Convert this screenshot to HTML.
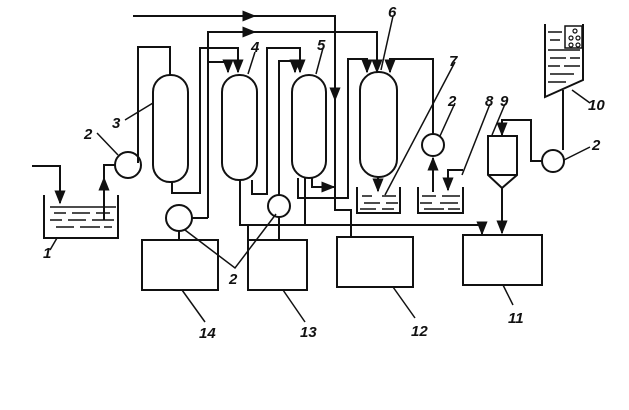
<!DOCTYPE html>
<html><head><meta charset="utf-8"><style>
html,body{margin:0;padding:0;background:#fff;}
svg{display:block;}
text{font-family:"Liberation Sans",sans-serif;font-style:italic;font-weight:bold;font-size:15px;fill:#111;}
</style></head><body>
<svg width="629" height="410" viewBox="0 0 629 410" xmlns="http://www.w3.org/2000/svg">
<defs><marker id="a" viewBox="0 0 10 10" refX="9" refY="5" markerWidth="7" markerHeight="7" orient="auto"><path d="M0,1 L10,5 L0,9 Z" fill="#111"/></marker></defs>
<g fill="none" stroke="#111" stroke-width="2">
<!-- top lines -->
<path d="M133,16 H335 V100"/>
<path d="M133,16 H255" marker-end="url(#a)"/>
<path d="M335,100 V210 H351 V237"/>
<path d="M335,60 V100" marker-end="url(#a)"/>
<path d="M208,218 V32 H377 V72" marker-end="url(#a)"/>
<path d="M208,32 H255" marker-end="url(#a)"/>
<!-- tank 1 -->
<path d="M44,195 V238 H118 V195"/>
<path d="M32,166 H60 V203" marker-end="url(#a)"/>
<path d="M104,220 V178" marker-end="url(#a)"/>
<path d="M104,180 V165 H115"/>
<!-- column 3 -->
<rect x="153" y="75" width="35" height="107" rx="17"/>
<path d="M170,75 V47 H138 V163"/>
<path d="M172,182 V193 H200 V48 H238 V72" marker-end="url(#a)"/>
<!-- column 4 -->
<rect x="222" y="75" width="35" height="105" rx="17"/>
<path d="M208,62 H228 V72" marker-end="url(#a)"/>
<path d="M240,180 V225 H482 V234" marker-end="url(#a)"/>
<path d="M252,180 V194 H267 V48 H300 V72" marker-end="url(#a)"/>
<!-- column 5 -->
<rect x="292" y="75" width="34" height="103" rx="17"/>
<path d="M279,195 V61 H295 V72" marker-end="url(#a)"/>
<path d="M279,217 V240"/>
<path d="M305,178 V225"/>
<path d="M298,178 V198 H348 V59 H367 V72" marker-end="url(#a)"/>
<path d="M312,178 V187 H334" marker-end="url(#a)"/>
<!-- column 6 -->
<rect x="360" y="72" width="37" height="105" rx="18"/>
<path d="M378,177 V191" marker-end="url(#a)"/>
<path d="M433,134 V59 H390 V72" marker-end="url(#a)"/>
<path d="M433,192 V158" marker-end="url(#a)"/>
<path d="M463,170 H448 V190" marker-end="url(#a)"/>
<!-- tanks 7, 8 -->
<path d="M357,187 V213 H400 V187"/>
<path d="M418,187 V213 H463 V187"/>
<!-- pumps -->
<circle cx="128" cy="165" r="13"/>
<circle cx="179" cy="218" r="13"/>
<path d="M192,218 H208"/>
<path d="M179,231 V240"/>
<circle cx="279" cy="206" r="11"/>
<circle cx="433" cy="145" r="11"/>
<circle cx="553" cy="161" r="11"/>
<!-- separator 9 -->
<path d="M488,136 H517 V175 L502,188 L488,175 Z"/>
<path d="M488,175 H517"/>
<path d="M502,188 V233" marker-end="url(#a)"/>
<path d="M542,161 H531 V120 H502 V135" marker-end="url(#a)"/>
<!-- hopper 10 -->
<path d="M545,24 V97 L583,80 V24"/>
<path d="M563,90 V150"/>
<rect x="565" y="26" width="17" height="22" stroke-width="1.5"/>
<!-- boxes -->
<rect x="142" y="240" width="76" height="50"/>
<rect x="248" y="240" width="59" height="50"/>
<rect x="337" y="237" width="76" height="50"/>
<rect x="463" y="235" width="79" height="50"/>
<path d="M248,240 V225"/>
<!-- leaders -->
<g stroke-width="1.5">
<path d="M97,133 L118,155"/>
<path d="M125,120 L153,103"/>
<path d="M255,52 L248,74"/>
<path d="M323,48 L316,74"/>
<path d="M393,16 L381,70"/>
<path d="M455,62 L385,195"/>
<path d="M455,103 L440,136"/>
<path d="M490,104 L462,175"/>
<path d="M505,104 L492,135"/>
<path d="M590,103 L572,90"/>
<path d="M590,147 L564,160"/>
<path d="M57,238 L50,250"/>
<path d="M185,230 L235,268 L276,214"/>
<path d="M182,290 L205,322"/>
<path d="M283,290 L305,322"/>
<path d="M393,287 L415,318"/>
<path d="M503,285 L513,305"/>
</g>
</g>
<!-- liquid dashes -->
<g stroke="#111" stroke-width="1.5">
<path d="M50,207 H116 M54,213 H66 M72,213 H90 M96,213 H110 M50,220 H62 M68,220 H86 M92,220 H114 M56,227 H74 M80,227 H100 M104,227 H112"/>
<path d="M362,196 H372 M382,196 H396 M364,203 H380 M386,203 H398 M360,209 H376 M382,209 H394"/>
<path d="M422,196 H436 M442,196 H460 M420,203 H432 M440,203 H458 M424,209 H444 M448,209 H460"/>
<path d="M548,32 H562 M550,40 H560 M548,50 H580 M550,58 H566 M570,58 H580 M548,66 H560 M564,66 H580 M550,74 H574 M548,82 H566"/>
</g>
<g fill="none" stroke="#111" stroke-width="1.2"><circle cx="575" cy="31" r="2"/><circle cx="571" cy="38" r="2"/><circle cx="578" cy="38" r="2"/><circle cx="571" cy="45" r="2"/><circle cx="578" cy="45" r="2"/></g>
<!-- labels -->
<text x="43" y="258">1</text>
<text x="84" y="139">2</text>
<text x="112" y="128">3</text>
<text x="251" y="52">4</text>
<text x="317" y="50">5</text>
<text x="388" y="17">6</text>
<text x="449" y="66">7</text>
<text x="448" y="106">2</text>
<text x="485" y="106">8</text>
<text x="500" y="106">9</text>
<text x="588" y="110">10</text>
<text x="592" y="150">2</text>
<text x="229" y="284">2</text>
<text x="199" y="338">14</text>
<text x="300" y="337">13</text>
<text x="411" y="336">12</text>
<text x="508" y="323">11</text>
</svg>
</body></html>
